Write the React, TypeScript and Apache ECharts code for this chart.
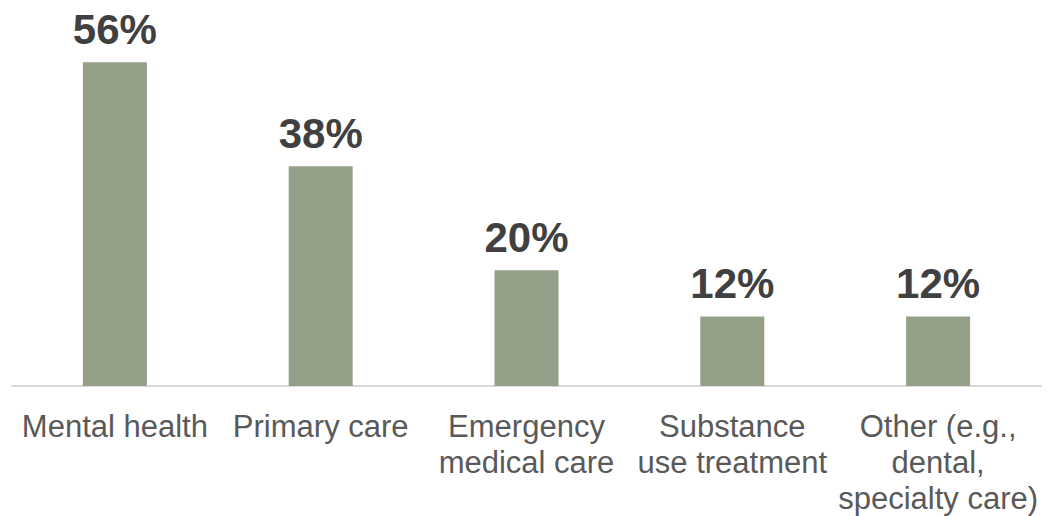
import React, { useEffect, useRef } from "react";
import * as echarts from "echarts";

const categories = [
  "Mental health",
  "Primary care",
  "Emergency\nmedical care",
  "Substance\nuse treatment",
  "Other (e.g.,\ndental,\nspecialty care)",
];
const values = [56, 38, 20, 12, 12];

export default function App() {
  const ref = useRef<HTMLDivElement>(null);
  useEffect(() => {
    if (!ref.current) return;
    const chart = echarts.init(ref.current, undefined, { renderer: "svg" });
    chart.setOption({
      animation: false,
      backgroundColor: "#ffffff",
      grid: { left: 12, right: 8, top: 39, bottom: 128, containLabel: false },
      xAxis: {
        type: "category",
        data: categories,
        axisLine: { show: true, lineStyle: { color: "#d9d9d9", width: 2 } },
        axisTick: { show: false },
        axisLabel: {
          interval: 0,
          margin: 22,
          fontSize: 31,
          lineHeight: 36,
          color: "#595959",
          fontFamily: "Liberation Sans, Arial, sans-serif",
          align: "center",
        },
      },
      yAxis: {
        type: "value",
        min: 0,
        max: 60,
        show: false,
        splitLine: { show: false },
      },
      series: [
        {
          type: "bar",
          data: values,
          barWidth: 64,
          itemStyle: { color: "#95a088" },
          label: {
            show: true,
            position: "top",
            distance: 12,
            formatter: "{c}%",
            fontSize: 42,
            fontWeight: "bold",
            color: "#404040",
            fontFamily: "Liberation Sans, Arial, sans-serif",
          },
        },
      ],
    });
    return () => chart.dispose();
  }, []);
  return (
    <div
      ref={ref}
      style={{ position: "fixed", left: 0, top: 0, width: 1049, height: 516 }}
    />
  );
}
